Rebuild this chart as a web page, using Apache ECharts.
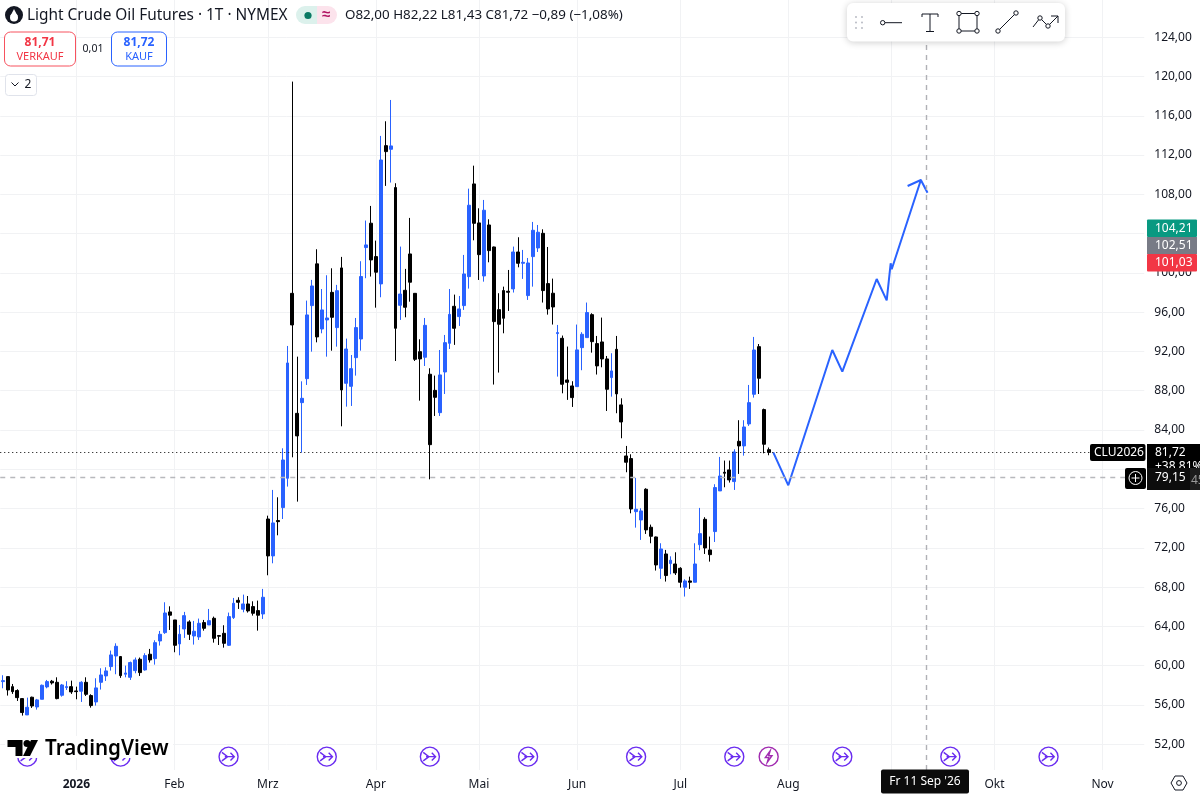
<!DOCTYPE html>
<html>
<head>
<meta charset="utf-8">
<title>Light Crude Oil Futures</title>
<script src="https://cdn.jsdelivr.net/npm/echarts@6/dist/echarts.min.js"></script>
<style>
	html, body { margin: 0; padding: 0; background: #fff; overflow: hidden; }
	#main { width: 1200px; height: 795px; }
</style>
</head>
<body>
<div id="main"></div>
<script>
// daily candles, 10 Dec 2025 .. 28 Jul 2026
var opens = [
	58.38, 58.89, 57.87, 57.47, 56.65, 54.99, 56.79, 55.80, 56.58, 57.84,
	58.42, 58.31, 56.99, 57.77, 57.87, 57.43, 57.40, 58.31, 56.96, 56.31,
	58.31, 58.96, 59.91, 60.99, 60.93, 59.13, 58.82, 59.50, 60.66, 59.57,
	61.17, 60.72, 62.52, 63.37, 65.48, 64.66, 62.22, 63.74, 64.46, 63.03,
	62.93, 64.39, 64.15, 64.83, 63.07, 63.30, 62.08, 64.90, 66.66, 65.75,
	66.29, 66.02, 65.61, 65.27, 74.94, 71.18, 74.78, 76.10, 79.09, 97.92,
	85.70, 86.79, 89.23, 96.67, 100.92, 94.29, 95.21, 98.02, 94.43, 100.51,
	88.76, 88.45, 91.37, 93.27, 102.58, 105.06, 101.66, 98.88, 112.96, 112.59,
	108.69, 96.70, 98.23, 101.93, 97.92, 91.98, 91.41, 89.68, 88.04, 85.77,
	89.91, 92.83, 96.60, 95.55, 96.67, 99.62, 109.06, 105.09, 99.69, 104.88,
	102.64, 96.26, 98.20, 98.13, 98.37, 102.13, 100.98, 97.69, 101.66, 102.54,
	104.03, 98.91, 97.93, 93.82, 93.34, 89.10, 88.49, 88.42, 92.39, 93.41,
	95.75, 92.80, 92.97, 91.24, 89.34, 92.22, 86.56, 81.36, 81.09, 75.69,
	74.84, 77.97, 74.10, 73.11, 69.92, 71.38, 70.40, 70.36, 69.92, 67.99,
	68.63, 68.50, 72.33, 74.91, 71.79, 73.66, 77.80, 79.70, 79.94, 78.75,
	82.85, 82.38, 84.62, 87.64, 92.49, 86.08, 82.00
];
var closes = [
	58.48, 57.53, 57.36, 56.75, 55.23, 55.77, 55.90, 56.52, 58.01, 58.38,
	58.25, 56.65, 58.04, 57.87, 57.33, 57.36, 58.31, 57.09, 55.94, 57.74,
	59.06, 59.47, 61.10, 61.98, 58.99, 59.26, 60.32, 60.59, 59.30, 61.03,
	60.59, 62.35, 63.20, 65.37, 65.14, 62.08, 63.20, 65.10, 63.20, 63.51,
	64.32, 63.81, 64.59, 62.79, 63.00, 62.28, 65.00, 66.36, 66.46, 66.29,
	65.58, 65.34, 65.14, 66.97, 71.18, 74.54, 74.67, 80.95, 90.83, 94.70,
	83.40, 87.23, 95.72, 98.67, 93.48, 96.23, 95.41, 95.48, 98.19, 88.08,
	92.25, 90.25, 94.43, 99.63, 102.85, 101.32, 100.07, 111.50, 112.35, 112.93,
	94.36, 97.85, 96.50, 99.05, 91.20, 91.24, 94.66, 82.51, 87.33, 89.61,
	92.90, 95.78, 94.36, 96.33, 99.89, 106.89, 105.05, 101.86, 106.38, 102.27,
	95.04, 94.77, 95.38, 98.03, 102.13, 100.98, 101.08, 101.01, 104.34, 104.14,
	98.20, 96.33, 96.53, 93.92, 88.66, 88.86, 87.30, 92.16, 93.75, 95.96,
	93.00, 90.53, 91.24, 88.15, 90.02, 87.68, 84.82, 80.72, 75.96, 75.93,
	75.76, 73.83, 73.18, 70.26, 71.89, 69.18, 70.74, 69.45, 68.50, 68.63,
	68.50, 70.36, 73.45, 71.99, 71.31, 78.14, 79.32, 79.60, 78.92, 81.77,
	82.38, 84.31, 86.79, 92.15, 89.27, 82.55, 81.72
];
var lows = [
	57.70, 56.96, 57.13, 56.41, 54.92, 54.99, 55.70, 55.53, 56.58, 57.70,
	58.08, 56.58, 56.85, 57.53, 57.13, 56.58, 56.31, 56.92, 55.73, 55.94,
	57.57, 58.45, 59.50, 59.13, 58.76, 58.82, 58.55, 59.23, 58.96, 59.50,
	60.32, 60.11, 62.05, 63.24, 63.64, 61.37, 61.06, 62.83, 62.62, 62.15,
	62.62, 63.57, 64.15, 62.35, 62.11, 61.84, 62.01, 64.76, 65.78, 65.44,
	65.41, 65.10, 63.57, 64.76, 69.21, 70.43, 73.28, 74.94, 78.24, 81.22,
	76.71, 81.70, 88.59, 91.98, 92.93, 93.85, 91.47, 92.08, 92.49, 84.38,
	86.38, 86.45, 89.54, 92.08, 99.46, 99.63, 96.46, 97.52, 108.86, 109.20,
	91.03, 95.21, 95.48, 97.07, 91.03, 86.99, 90.52, 78.98, 85.43, 85.43,
	87.67, 92.25, 92.67, 94.60, 96.23, 98.40, 103.32, 99.28, 99.11, 101.08,
	88.63, 89.85, 93.85, 96.13, 98.00, 100.57, 99.39, 97.25, 98.60, 102.13,
	96.98, 95.75, 94.74, 89.44, 87.74, 87.07, 86.35, 88.42, 90.09, 93.41,
	91.88, 89.65, 90.39, 85.94, 87.40, 85.71, 83.16, 79.70, 75.52, 74.06,
	72.81, 73.42, 72.47, 69.69, 68.84, 68.57, 69.31, 69.24, 67.95, 67.04,
	67.82, 68.50, 71.76, 71.38, 70.60, 72.60, 77.80, 78.17, 78.65, 77.90,
	79.53, 81.39, 84.42, 87.30, 87.67, 81.63, 81.43
];
var highs = [
	59.03, 58.89, 58.14, 57.60, 56.68, 56.75, 56.85, 56.62, 58.08, 58.55,
	58.55, 58.82, 58.14, 58.42, 58.48, 57.87, 58.42, 58.82, 57.09, 58.72,
	59.74, 59.84, 61.54, 62.28, 60.99, 60.01, 60.42, 60.83, 60.83, 61.27,
	61.71, 62.59, 63.54, 66.46, 66.05, 64.66, 64.15, 65.48, 64.63, 64.56,
	64.80, 64.66, 65.78, 65.00, 63.13, 64.12, 65.41, 66.90, 66.97, 67.24,
	67.10, 66.56, 66.63, 67.82, 75.28, 77.90, 77.15, 82.14, 92.56, 119.48,
	91.47, 88.96, 97.18, 99.29, 102.41, 98.36, 99.76, 100.47, 98.78, 101.63,
	93.31, 91.64, 95.41, 101.19, 105.33, 106.82, 103.29, 113.95, 115.44, 117.61,
	109.13, 102.68, 100.41, 105.60, 97.92, 93.24, 95.41, 90.29, 89.54, 92.15,
	93.68, 98.36, 97.79, 97.65, 101.83, 108.58, 110.92, 106.58, 107.43, 105.46,
	102.68, 97.93, 98.60, 100.30, 102.68, 103.63, 102.34, 101.52, 105.19, 104.88,
	104.44, 102.64, 99.42, 94.70, 93.62, 92.50, 88.97, 94.74, 93.96, 96.98,
	95.89, 93.58, 95.45, 91.54, 91.82, 93.58, 87.23, 82.38, 81.53, 79.12,
	76.03, 78.07, 74.37, 73.15, 72.47, 71.79, 71.14, 71.55, 70.03, 68.80,
	69.07, 72.47, 76.07, 75.12, 73.15, 78.48, 81.26, 80.89, 80.89, 82.04,
	85.00, 85.00, 88.59, 93.48, 92.76, 86.18, 82.22
];

// hand drawn projection, [bar number, price]
var projection = [
	[156.94, 81.73], [160.0, 78.37], [168.96, 92.15], [171.0, 89.94], [178.0, 99.38],
	[180.04, 97.21], [180.85, 100.98], [181.06, 100.37], [187.0, 109.46],
	[184.3, 108.85], [187.0, 109.46], [188.35, 108.17]
];

var yTicks = [52, 56, 60, 64, 68, 72, 76, 80, 84, 88, 92, 96, 100, 104, 108, 112, 116, 120, 124];
var monthTicks = [15, 35, 54, 76, 97, 117, 138, 160, 181, 202, 224];
var monthNames = ['2026', 'Feb', 'Mrz', 'Apr', 'Mai', 'Jun', 'Jul', 'Aug', '', 'Okt', 'Nov'];
var eventBars = [5, 24, 46, 66, 87, 107, 129, 149, 171, 193, 213];
var boltBars = [156];
var eventLevel = 50.74;
var lastPrice = 81.72;
var cursorPrice = 79.15;
var cursorBar = 188;
var holidays = ['2025-12-25', '2026-01-01', '2026-01-19', '2026-02-16', '2026-04-03',
	'2026-05-25', '2026-06-19', '2026-07-03', '2026-09-07'];

var barCount = 233;
var barStep = 4.91;
var FONT = '"Noto Sans", sans-serif';
var BLUE = '#2962ff';
var INK = '#131722';

// trading days, weekends and exchange holidays left out
var categories = [];
var day = Date.UTC(2025, 11, 10);
while (categories.length < barCount) {
	var d = new Date(day);
	var iso = d.toISOString().slice(0, 10);
	if (d.getUTCDay() > 0 && d.getUTCDay() < 6 && holidays.indexOf(iso) < 0) {
		categories.push(iso);
	}
	day += 86400000;
}

var candles = opens.map(function(o, i) {
	return [o, closes[i], lows[i], highs[i]];
});

function fmt(v) {
	return v.toFixed(2).replace('.', ',');
}
function txt(x, y, s, size, color, align, weight) {
	return {
		type: 'text', z: 110,
		style: {
			x: x, y: y, text: s, fill: color,
			font: (weight || 'normal') + ' ' + size + 'px ' + FONT,
			textAlign: align || 'left', textVerticalAlign: 'middle'
		}
	};
}
function box(x, y, w, h, fill, r, stroke, z) {
	return {
		type: 'rect', z: z || 105,
		shape: { x: x, y: y, width: w, height: h, r: r || 0 },
		style: { fill: fill, stroke: stroke || null, lineWidth: 1 }
	};
}
function seg(x1, y1, x2, y2, color, w) {
	return {
		type: 'line', z: 110,
		shape: { x1: x1, y1: y1, x2: x2, y2: y2 },
		style: { stroke: color || INK, lineWidth: w || 1 }
	};
}
function dot(x, y, r, fill, stroke, w) {
	return {
		type: 'circle', z: 111,
		shape: { cx: x, cy: y, r: r },
		style: { fill: fill, stroke: stroke || null, lineWidth: w || 1 }
	};
}
function area(points, fill) {
	return { type: 'polygon', z: 112, shape: { points: points }, style: { fill: fill } };
}
function stroke(points, color) {
	return { type: 'polyline', z: 112, shape: { points: points }, style: { fill: 'none', stroke: color || INK, lineWidth: 1 } };
}

var overlay = [
	// header
	dot(14, 15, 9, INK),
	dot(14, 17.5, 4, '#fff'),
	area([[14, 9], [10.4, 16], [17.6, 16]], '#fff'),
	txt(27, 15.5, 'Light Crude Oil Futures · 1T · NYMEX', 15.4, INK),
	box(296, 6, 21, 18, '#dcf1ec', [9, 0, 0, 9]),
	box(317, 6, 20, 18, '#fce3ec', [0, 9, 9, 0]),
	dot(308, 15.5, 3.6, '#0a7a64'),
	txt(326, 15, '≈', 15, '#b01262', 'center', 'bold'),
	txt(345, 15.5, 'O82,00 H82,22 L81,43 C81,72 −0,89 (−1,08%)', 13.4, INK),
	// sell and buy boxes
	box(4.5, 32, 71, 34, '#fff', 6, '#f7525f'),
	txt(40, 42.5, '81,71', 12, '#f23645', 'center', 'bold'),
	txt(40, 56.5, 'VERKAUF', 11, '#f23645', 'center'),
	txt(93, 49, '0,01', 10.5, INK, 'center'),
	box(111.5, 32, 55, 34, '#fff', 6, BLUE),
	txt(139, 42.5, '81,72', 12, BLUE, 'center', 'bold'),
	txt(139, 56.5, 'KAUF', 11, BLUE, 'center'),
	// collapsed indicators
	box(5.5, 74.5, 31, 21, '#fff', 3, '#e0e3eb'),
	stroke([[11.5, 82.5], [15, 86], [18.5, 82.5]]),
	txt(28, 84.5, '2', 12, INK, 'center'),
	// drawing toolbar
	{
		type: 'rect', z: 106,
		shape: { x: 847, y: 3, width: 218, height: 38.5, r: 6 },
		style: { fill: '#fff', shadowBlur: 7, shadowColor: 'rgba(0,0,0,0.2)', shadowOffsetY: 1 }
	},
	dot(856, 17, 0.9, '#b2b5be'), dot(862, 17, 0.9, '#b2b5be'),
	dot(856, 22.5, 0.9, '#b2b5be'), dot(862, 22.5, 0.9, '#b2b5be'),
	dot(856, 28, 0.9, '#b2b5be'), dot(862, 28, 0.9, '#b2b5be'),
	seg(885, 22.7, 902, 22.7),
	dot(882.7, 22.7, 2.2, '#fff', INK),
	stroke([[922, 17], [922, 14], [938, 14], [938, 17]]),
	seg(930, 14, 930, 31.5), seg(926, 31.5, 934, 31.5),
	seg(959, 13.5, 977, 13.5), seg(977, 13.5, 977, 31), seg(977, 31, 959, 31), seg(959, 31, 959, 13.5),
	dot(959, 13.5, 2.2, '#fff', INK), dot(977, 13.5, 2.2, '#fff', INK),
	dot(977, 31, 2.2, '#fff', INK), dot(959, 31, 2.2, '#fff', INK),
	seg(998, 31, 1016, 13),
	dot(998, 31, 2.2, '#fff', INK), dot(1016, 13, 2.2, '#fff', INK),
	seg(1033, 27, 1040, 18), seg(1040, 18, 1048, 26), seg(1048, 26, 1058, 16),
	seg(1051, 16, 1058, 16), seg(1058, 16, 1058, 23),
	dot(1040, 18, 2.2, '#fff', INK), dot(1048, 26, 2.2, '#fff', INK),
	// price tags
	box(1147, 219.5, 50, 17.5, '#089981', 1),
	txt(1155, 228.3, '104,21', 12, '#fff'),
	box(1147, 237, 50, 17, '#787b86'),
	txt(1155, 245.5, '102,51', 12, '#fff'),
	box(1147, 254, 50, 17.5, '#f23645', 1),
	txt(1155, 262.8, '101,03', 12, '#fff'),
	box(1090, 444, 55.5, 17, '#000', 2),
	txt(1094, 452.7, 'CLU2026', 12, '#fff'),
	box(1147, 444, 53, 26, '#000'),
	txt(1155, 452.5, '81,72', 12, '#fff'),
	txt(1155, 466.5, '+38,81%', 12, '#fff'),
	Object.assign(box(1147, 468, 53, 22, '#1c1c1c'), { z: 111 }),
	Object.assign(box(1147, 468, 43, 22, '#0d0d0d'), { z: 111 }),
	Object.assign(txt(1155, 477.5, '79,15', 12, '#fff'), { z: 112 }),
	Object.assign(txt(1191, 481, '45', 12, '#999'), { z: 112 }),
	box(1125, 468, 21, 21, '#000', 2),
	dot(1135.5, 478, 6.5, 'none', '#fff'),
	seg(1131.5, 478, 1139.5, 478, '#fff'),
	seg(1135.5, 474, 1135.5, 482, '#fff'),
	// cursor date and settings
	box(881, 769.5, 88, 24, '#0b0b0b', 2),
	txt(925, 782, 'Fr 11 Sep \'26', 12, '#fff', 'center'),
	stroke([[1175, 776], [1183, 776], [1187, 783], [1183, 790], [1175, 790], [1171, 783], [1175, 776]]),
	dot(1179, 783, 2.4, 'none', INK),
	// logo
	box(5, 736, 168, 22, '#fff', 0, null, 104),
	area([[7.5, 740], [22.5, 740], [22.5, 756], [15.5, 756], [15.5, 747], [7.5, 747]], '#000'),
	dot(27, 743.5, 3.5, '#000'),
	area([[31, 740], [38, 740], [30, 756], [23, 756]], '#000'),
	txt(45, 749, 'TradingView', 20.6, '#000', 'left', '600')
];

var myChart = echarts.init(document.getElementById('main'));

var option = {
	animation: false,
	backgroundColor: '#fff',
	grid: { left: 0.25, top: 0, width: barCount * barStep, height: 770, outerBoundsMode: 'none' },
	graphic: { elements: overlay },
	xAxis: [
		{
			type: 'category',
			data: categories,
			show: false
		},
		{
			type: 'value',
			position: 'bottom',
			min: -0.5,
			max: barCount - 0.5,
			axisLine: { show: false },
			axisTick: { show: false, customValues: monthTicks },
			splitLine: { show: true, lineStyle: { color: '#f1f2f4', width: 1 } },
			axisLabel: {
				customValues: monthTicks,
				margin: 9,
				fontFamily: FONT,
				fontSize: 12,
				color: INK,
				formatter: function(v) {
					var name = monthNames[monthTicks.indexOf(v)];
					return name === '2026' ? '{y|2026}' : name;
				},
				rich: { y: { fontFamily: FONT, fontSize: 12, fontWeight: 'bold', color: INK } }
			}
		}
	],
	yAxis: {
		type: 'value',
		position: 'right',
		min: 49.38,
		max: 127.79,
		axisLine: { show: false },
		axisTick: { show: false, customValues: yTicks },
		splitLine: { show: true, lineStyle: { color: '#f1f2f4', width: 1 } },
		axisLabel: {
			customValues: yTicks,
			margin: 10,
			fontFamily: FONT,
			fontSize: 12,
			color: INK,
			formatter: fmt
		}
	},
	series: [
		{
			type: 'candlestick',
			name: 'CLU2026',
			xAxisIndex: 0,
			data: candles,
			barWidth: 3.4,
			itemStyle: {
				color: BLUE,
				color0: '#000',
				borderColor: BLUE,
				borderColor0: '#000',
				borderWidth: 1
			},
			silent: true
		},
		{
			type: 'line',
			xAxisIndex: 1,
			data: projection,
			showSymbol: false,
			silent: true,
			z: 4,
			lineStyle: { color: BLUE, width: 2 },
			markLine: {
				silent: true,
				symbol: 'none',
				animation: false,
				label: { show: false },
				data: [
					{ yAxis: lastPrice, lineStyle: { color: '#000', type: [1, 3], width: 1 } },
					{ yAxis: cursorPrice, lineStyle: { color: '#b8b9bd', type: [5, 5], width: 1.4 } },
					{ xAxis: cursorBar, lineStyle: { color: '#b0b1b6', type: [5, 5], width: 1.4 } }
				]
			}
		},
		{
			type: 'scatter',
			xAxisIndex: 1,
			data: eventBars.map(function(b) { return [b, eventLevel]; }),
			symbol: 'path://M10 0 A10 10 0 1 1 9.99 0 Z M3 5.5 L9 10 L3 14.5 M6 10 H16 M12 6 L16 10 L12 14',
			symbolSize: 19,
			silent: true,
			itemStyle: { color: '#fff', borderColor: '#6a2cf0', borderWidth: 1.4, opacity: 1 }
		},
		{
			type: 'scatter',
			xAxisIndex: 1,
			data: boltBars.map(function(b) { return [b, eventLevel]; }),
			symbol: 'path://M10 0 A10 10 0 1 1 9.99 0 Z M11.5 4 L6.5 11 L10 11 L8.5 16 L13.5 9 L10 9 Z',
			symbolSize: 19,
			silent: true,
			itemStyle: { color: '#fff', borderColor: '#a12bb0', borderWidth: 1.4, opacity: 1 }
		}
	]
};

myChart.setOption(option);
</script>
</body>
</html>
